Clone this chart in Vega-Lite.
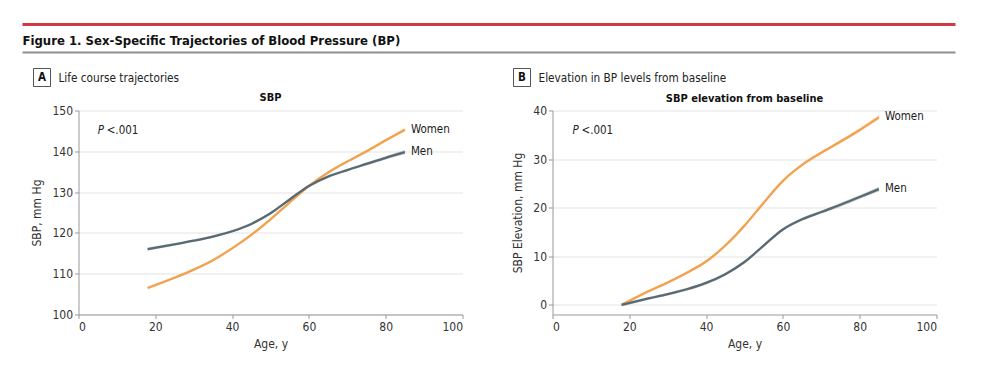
{
  "$schema": "https://vega.github.io/schema/vega-lite/v6.json",
  "background": "white",
  "padding": {"left": 20.5, "top": 22.5, "right": 5, "bottom": 5},
  "bounds": "flush",
  "spacing": 90,
  "config": {
    "font": "DejaVu Sans Condensed, Liberation Sans Narrow, Roboto, sans-serif",
    "view": {"stroke": null},
    "axis": {
      "domainColor": "#999999",
      "tickColor": "#999999",
      "labelColor": "#333333",
      "titleColor": "#333333",
      "labelFontSize": 12,
      "titleFontSize": 12,
      "titleFontWeight": "normal",
      "tickSize": 4,
      "gridColor": "#ececec",
      "gridWidth": 1.5
    },
    "text": {"fontSize": 12, "color": "#222222"}
  },
  "datasets": {
    "bp": [
    {"panel": "A", "sex": "Women", "age": 18, "sbp": 106.5, "lo": 106.1, "hi": 106.9},
    {"panel": "A", "sex": "Women", "age": 25, "sbp": 109.0, "lo": 108.7, "hi": 109.3},
    {"panel": "A", "sex": "Women", "age": 30, "sbp": 111.0, "lo": 110.7, "hi": 111.3},
    {"panel": "A", "sex": "Women", "age": 35, "sbp": 113.3, "lo": 113.0, "hi": 113.6},
    {"panel": "A", "sex": "Women", "age": 40, "sbp": 116.2, "lo": 115.9, "hi": 116.5},
    {"panel": "A", "sex": "Women", "age": 45, "sbp": 119.5, "lo": 119.2, "hi": 119.8},
    {"panel": "A", "sex": "Women", "age": 50, "sbp": 123.3, "lo": 123.0, "hi": 123.6},
    {"panel": "A", "sex": "Women", "age": 55, "sbp": 127.5, "lo": 127.2, "hi": 127.8},
    {"panel": "A", "sex": "Women", "age": 60, "sbp": 131.5, "lo": 131.2, "hi": 131.8},
    {"panel": "A", "sex": "Women", "age": 65, "sbp": 134.8, "lo": 134.5, "hi": 135.1},
    {"panel": "A", "sex": "Women", "age": 70, "sbp": 137.5, "lo": 137.2, "hi": 137.8},
    {"panel": "A", "sex": "Women", "age": 75, "sbp": 140.0, "lo": 139.6, "hi": 140.4},
    {"panel": "A", "sex": "Women", "age": 80, "sbp": 142.7, "lo": 142.3, "hi": 143.1},
    {"panel": "A", "sex": "Women", "age": 85, "sbp": 145.3, "lo": 144.8, "hi": 145.8},
    {"panel": "A", "sex": "Men", "age": 18, "sbp": 116.0, "lo": 115.6, "hi": 116.4},
    {"panel": "A", "sex": "Men", "age": 25, "sbp": 117.2, "lo": 116.9, "hi": 117.5},
    {"panel": "A", "sex": "Men", "age": 30, "sbp": 118.1, "lo": 117.8, "hi": 118.4},
    {"panel": "A", "sex": "Men", "age": 35, "sbp": 119.1, "lo": 118.8, "hi": 119.4},
    {"panel": "A", "sex": "Men", "age": 40, "sbp": 120.4, "lo": 120.1, "hi": 120.7},
    {"panel": "A", "sex": "Men", "age": 45, "sbp": 122.2, "lo": 121.9, "hi": 122.5},
    {"panel": "A", "sex": "Men", "age": 50, "sbp": 124.8, "lo": 124.5, "hi": 125.1},
    {"panel": "A", "sex": "Men", "age": 55, "sbp": 128.2, "lo": 127.9, "hi": 128.5},
    {"panel": "A", "sex": "Men", "age": 60, "sbp": 131.5, "lo": 131.2, "hi": 131.8},
    {"panel": "A", "sex": "Men", "age": 65, "sbp": 133.8, "lo": 133.5, "hi": 134.1},
    {"panel": "A", "sex": "Men", "age": 70, "sbp": 135.4, "lo": 135.1, "hi": 135.7},
    {"panel": "A", "sex": "Men", "age": 75, "sbp": 136.9, "lo": 136.5, "hi": 137.3},
    {"panel": "A", "sex": "Men", "age": 80, "sbp": 138.4, "lo": 138.0, "hi": 138.8},
    {"panel": "A", "sex": "Men", "age": 85, "sbp": 139.8, "lo": 139.3, "hi": 140.3},
    {"panel": "B", "sex": "Women", "age": 18, "sbp": 0.0, "lo": -0.3, "hi": 0.3},
    {"panel": "B", "sex": "Women", "age": 25, "sbp": 2.8, "lo": 2.5, "hi": 3.1},
    {"panel": "B", "sex": "Women", "age": 30, "sbp": 4.6, "lo": 4.3, "hi": 4.9},
    {"panel": "B", "sex": "Women", "age": 35, "sbp": 6.6, "lo": 6.3, "hi": 6.9},
    {"panel": "B", "sex": "Women", "age": 40, "sbp": 8.9, "lo": 8.6, "hi": 9.2},
    {"panel": "B", "sex": "Women", "age": 45, "sbp": 12.2, "lo": 11.9, "hi": 12.5},
    {"panel": "B", "sex": "Women", "age": 50, "sbp": 16.3, "lo": 16.0, "hi": 16.6},
    {"panel": "B", "sex": "Women", "age": 55, "sbp": 21.0, "lo": 20.7, "hi": 21.3},
    {"panel": "B", "sex": "Women", "age": 60, "sbp": 25.5, "lo": 25.2, "hi": 25.8},
    {"panel": "B", "sex": "Women", "age": 65, "sbp": 28.8, "lo": 28.5, "hi": 29.1},
    {"panel": "B", "sex": "Women", "age": 70, "sbp": 31.3, "lo": 31.0, "hi": 31.6},
    {"panel": "B", "sex": "Women", "age": 75, "sbp": 33.6, "lo": 33.2, "hi": 34.0},
    {"panel": "B", "sex": "Women", "age": 80, "sbp": 36.0, "lo": 35.6, "hi": 36.4},
    {"panel": "B", "sex": "Women", "age": 85, "sbp": 38.6, "lo": 38.1, "hi": 39.1},
    {"panel": "B", "sex": "Men", "age": 18, "sbp": 0.0, "lo": -0.3, "hi": 0.3},
    {"panel": "B", "sex": "Men", "age": 25, "sbp": 1.3, "lo": 1.0, "hi": 1.6},
    {"panel": "B", "sex": "Men", "age": 30, "sbp": 2.2, "lo": 1.9, "hi": 2.5},
    {"panel": "B", "sex": "Men", "age": 35, "sbp": 3.2, "lo": 2.9, "hi": 3.5},
    {"panel": "B", "sex": "Men", "age": 40, "sbp": 4.5, "lo": 4.2, "hi": 4.8},
    {"panel": "B", "sex": "Men", "age": 45, "sbp": 6.3, "lo": 6.0, "hi": 6.6},
    {"panel": "B", "sex": "Men", "age": 50, "sbp": 8.8, "lo": 8.5, "hi": 9.1},
    {"panel": "B", "sex": "Men", "age": 55, "sbp": 12.2, "lo": 11.9, "hi": 12.5},
    {"panel": "B", "sex": "Men", "age": 60, "sbp": 15.5, "lo": 15.2, "hi": 15.8},
    {"panel": "B", "sex": "Men", "age": 65, "sbp": 17.6, "lo": 17.3, "hi": 17.9},
    {"panel": "B", "sex": "Men", "age": 70, "sbp": 19.1, "lo": 18.8, "hi": 19.4},
    {"panel": "B", "sex": "Men", "age": 75, "sbp": 20.6, "lo": 20.2, "hi": 21.0},
    {"panel": "B", "sex": "Men", "age": 80, "sbp": 22.2, "lo": 21.8, "hi": 22.6},
    {"panel": "B", "sex": "Men", "age": 85, "sbp": 23.8, "lo": 23.3, "hi": 24.3}
    ]
  },
  "hconcat": [
    {
      "width": 384,
      "height": 204,
      "layer": [
        {"data": {"name": "bp"},
         "transform": [{"filter": "datum.panel === 'A'"}],
         "mark": {"type": "area", "opacity": 0.3, "interpolate": "monotone"},
         "encoding": {
           "x": {"field": "age", "type": "quantitative", "scale": {"domain": [0, 100], "nice": false},
                 "axis": {"values": [0, 20, 40, 60, 80, 100], "title": "Age, y", "grid": false, "labelPadding": 3, "titlePadding": 6}},
           "y": {"field": "lo", "type": "quantitative", "scale": {"domain": [100, 150], "nice": false},
                 "axis": {"values": [100, 110, 120, 130, 140, 150], "title": "SBP, mm Hg", "grid": true, "labelPadding": 2, "titlePadding": 8}},
           "y2": {"field": "hi"},
           "color": {"field": "sex", "type": "nominal", "scale": {"domain": ["Women", "Men"], "range": ["#f2a24f", "#5a6a72"]}, "legend": null}}},
        {"data": {"name": "bp"},
         "transform": [{"filter": "datum.panel === 'A'"}],
         "mark": {"type": "line", "strokeWidth": 2.3, "interpolate": "monotone"},
         "encoding": {
           "x": {"field": "age", "type": "quantitative"},
           "y": {"field": "sbp", "type": "quantitative"},
           "color": {"field": "sex", "type": "nominal", "legend": null}}},
        {"data": {"name": "bp"},
         "transform": [{"filter": "datum.panel === 'A' && datum.age === 85"}],
         "mark": {"type": "text", "align": "left", "baseline": "middle", "dx": 6, "fontSize": 11.5, "fontWeight": 500, "color": "#1a1a1a"},
         "encoding": {"x": {"field": "age", "type": "quantitative"}, "y": {"field": "sbp", "type": "quantitative"}, "text": {"field": "sex"}}},
        {"data": {"values": [{"p": "P"}]},
         "mark": {"type": "text", "align": "left", "baseline": "middle", "fontStyle": "italic", "fontSize": 11.5, "color": "#222222"},
         "encoding": {"x": {"datum": 5, "type": "quantitative"}, "y": {"datum": 145, "type": "quantitative"}, "text": {"field": "p"}}},
        {"data": {"values": [{"p": "<.001"}]},
         "mark": {"type": "text", "align": "left", "baseline": "middle", "dx": 9, "fontSize": 11.5, "color": "#222222"},
         "encoding": {"x": {"datum": 5, "type": "quantitative"}, "y": {"datum": 145, "type": "quantitative"}, "text": {"field": "p"}}},
        {"data": {"values": [{"k": "red"}]},
         "mark": {"type": "rule", "color": "#d03a45", "strokeWidth": 3},
         "encoding": {"x": {"value": -56}, "x2": {"value": 877}, "y": {"value": -86}}},
        {"data": {"values": [{"k": "gray"}]},
         "mark": {"type": "rule", "color": "#8f8f8f", "strokeWidth": 2},
         "encoding": {"x": {"value": -56}, "x2": {"value": 877}, "y": {"value": -58}}},
        {"data": {"values": [{"t": "Figure 1. Sex-Specific Trajectories of Blood Pressure (BP)"}]},
         "mark": {"type": "text", "align": "left", "baseline": "alphabetic", "fontSize": 13, "fontWeight": "bold", "color": "#111111"},
         "encoding": {"x": {"value": -56}, "y": {"value": -66}, "text": {"field": "t"}}},
        {"data": {"values": [{"k": "box"}]},
         "mark": {"type": "rect", "fill": "white", "stroke": "#555555", "strokeWidth": 1},
         "encoding": {"x": {"value": -45}, "x2": {"value": -28}, "y": {"value": -42}, "y2": {"value": -24}}},
        {"data": {"values": [{"t": "A"}]},
         "mark": {"type": "text", "align": "center", "baseline": "middle", "fontSize": 11.5, "fontWeight": "bold", "color": "#111111"},
         "encoding": {"x": {"value": -36.5}, "y": {"value": -33}, "text": {"field": "t"}}},
        {"data": {"values": [{"t": "Life course trajectories"}]},
         "mark": {"type": "text", "align": "left", "baseline": "middle", "fontSize": 11.7, "color": "#222222"},
         "encoding": {"x": {"value": -20}, "y": {"value": -33}, "text": {"field": "t"}}},
        {"data": {"values": [{"t": "SBP"}]},
         "mark": {"type": "text", "align": "center", "baseline": "middle", "fontSize": 11, "fontWeight": "bold", "color": "#111111"},
         "encoding": {"x": {"value": 192}, "y": {"value": -13}, "text": {"field": "t"}}}
      ]
    },
    {
      "width": 384,
      "height": 204,
      "layer": [
        {"data": {"name": "bp"},
         "transform": [{"filter": "datum.panel === 'B'"}],
         "mark": {"type": "area", "opacity": 0.3, "interpolate": "monotone"},
         "encoding": {
           "x": {"field": "age", "type": "quantitative", "scale": {"domain": [0, 100], "nice": false},
                 "axis": {"values": [0, 20, 40, 60, 80, 100], "title": "Age, y", "grid": false, "labelPadding": 3, "titlePadding": 6}},
           "y": {"field": "lo", "type": "quantitative", "scale": {"domain": [-2, 40], "nice": false},
                 "axis": {"values": [0, 10, 20, 30, 40], "title": "SBP Elevation, mm Hg", "grid": true, "labelPadding": 2, "titlePadding": 8}},
           "y2": {"field": "hi"},
           "color": {"field": "sex", "type": "nominal", "scale": {"domain": ["Women", "Men"], "range": ["#f2a24f", "#5a6a72"]}, "legend": null}}},
        {"data": {"name": "bp"},
         "transform": [{"filter": "datum.panel === 'B'"}],
         "mark": {"type": "line", "strokeWidth": 2.3, "interpolate": "monotone"},
         "encoding": {
           "x": {"field": "age", "type": "quantitative"},
           "y": {"field": "sbp", "type": "quantitative"},
           "color": {"field": "sex", "type": "nominal", "legend": null}}},
        {"data": {"name": "bp"},
         "transform": [{"filter": "datum.panel === 'B' && datum.age === 85"}],
         "mark": {"type": "text", "align": "left", "baseline": "middle", "dx": 6, "fontSize": 11.5, "fontWeight": 500, "color": "#1a1a1a"},
         "encoding": {"x": {"field": "age", "type": "quantitative"}, "y": {"field": "sbp", "type": "quantitative"}, "text": {"field": "sex"}}},
        {"data": {"values": [{"p": "P"}]},
         "mark": {"type": "text", "align": "left", "baseline": "middle", "fontStyle": "italic", "fontSize": 11.5, "color": "#222222"},
         "encoding": {"x": {"datum": 5.2, "type": "quantitative"}, "y": {"datum": 35.7, "type": "quantitative"}, "text": {"field": "p"}}},
        {"data": {"values": [{"p": "<.001"}]},
         "mark": {"type": "text", "align": "left", "baseline": "middle", "dx": 9, "fontSize": 11.5, "color": "#222222"},
         "encoding": {"x": {"datum": 5.2, "type": "quantitative"}, "y": {"datum": 35.7, "type": "quantitative"}, "text": {"field": "p"}}},
        {"data": {"values": [{"k": "boxB"}]},
         "mark": {"type": "rect", "fill": "white", "stroke": "#555555", "strokeWidth": 1},
         "encoding": {"x": {"value": -39}, "x2": {"value": -22}, "y": {"value": -42}, "y2": {"value": -24}}},
        {"data": {"values": [{"t": "B"}]},
         "mark": {"type": "text", "align": "center", "baseline": "middle", "fontSize": 11.5, "fontWeight": "bold", "color": "#111111"},
         "encoding": {"x": {"value": -30.5}, "y": {"value": -33}, "text": {"field": "t"}}},
        {"data": {"values": [{"t": "Elevation in BP levels from baseline"}]},
         "mark": {"type": "text", "align": "left", "baseline": "middle", "fontSize": 11.7, "color": "#222222"},
         "encoding": {"x": {"value": -14}, "y": {"value": -33}, "text": {"field": "t"}}},
        {"data": {"values": [{"t": "SBP elevation from baseline"}]},
         "mark": {"type": "text", "align": "center", "baseline": "middle", "fontSize": 11, "fontWeight": "bold", "color": "#111111"},
         "encoding": {"x": {"value": 192}, "y": {"value": -12}, "text": {"field": "t"}}}
      ]
    }
  ]
}
